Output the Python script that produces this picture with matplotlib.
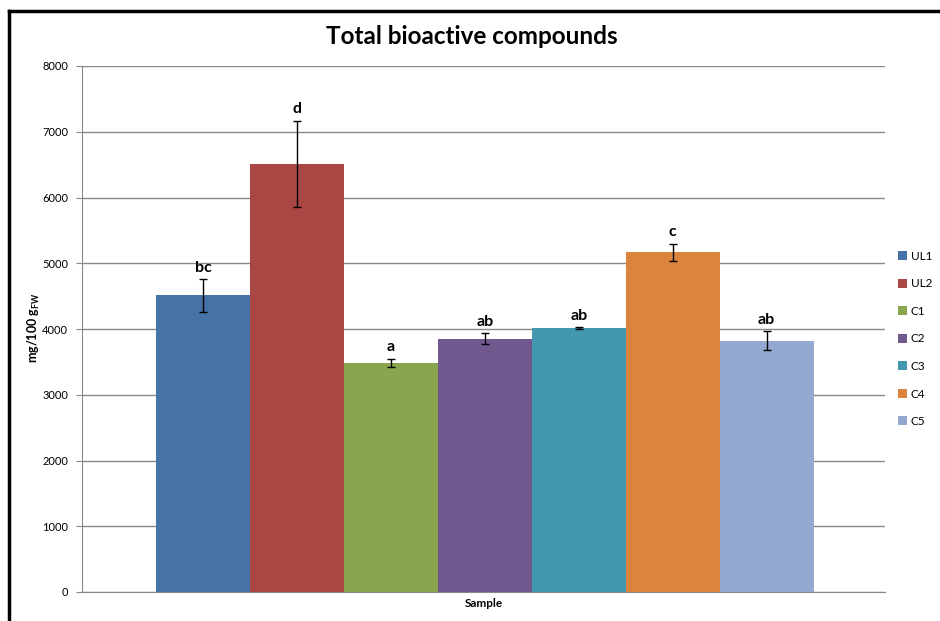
import matplotlib
matplotlib.use("Agg")
import matplotlib.pyplot as plt
from matplotlib.lines import Line2D
from matplotlib.patches import Patch

plt.rcParams['font.family'] = ['Lato', 'DejaVu Sans']

samples = ["UL1", "UL2", "C1", "C2", "C3", "C4", "C5"]
values = [4510, 6510, 3480, 3850, 4010, 5165, 3825]
errors = [247, 660, 65, 85, 15, 130, 140]
letters = ["bc", "d", "a", "ab", "ab", "c", "ab"]
colors = ["#4572A7", "#AA4643", "#89A54E", "#71588F", "#4198AF", "#DB843D", "#93A9CF"]
yticks = [0, 1000, 2000, 3000, 4000, 5000, 6000, 7000, 8000]

fig = plt.figure(figsize=(9.4, 6.21), dpi=100)
ax = fig.add_axes([82/940, 1-592/621, (885-82)/940, (592-66)/621])

x = list(range(len(samples)))
ax.bar(x, values, width=1.0, color=colors, zorder=2)
ax.errorbar(x, values, yerr=errors, fmt='none', ecolor='black', elinewidth=1,
            capsize=3, capthick=1, zorder=3)
for xi, v, e, lab in zip(x, values, errors, letters):
    ax.text(xi, v + e + 70, lab, ha='center', va='bottom', fontsize=11.5,
            fontweight='bold', zorder=4)

ax.set_xlim(-0.5-0.79, 6.5+0.76)
ax.set_ylim(0, 8000)
ax.set_yticks(yticks)
ax.set_yticklabels([str(t) for t in yticks], fontsize=8)
ax.yaxis.grid(True, color='#888888', linewidth=1, zorder=0)
ax.set_axisbelow(True)
ax.set_xticks([])
for s in ['top', 'right']:
    ax.spines[s].set_visible(False)
ax.spines['left'].set_color('#888888')
ax.spines['bottom'].set_color('#888888')
ax.tick_params(axis='y', length=4, color='#888888', pad=6)

ax.set_xlabel("Sample", fontsize=8.5, fontweight='bold', labelpad=4)
ax.set_ylabel(r"mg/100 g$_{\mathregular{FW}}$", fontsize=9, fontweight='bold', va='center')
ax.yaxis.set_label_coords((34-82)/803, (592-328)/526)

fig.text(472/940, 1-37/621, "Total bioactive compounds", ha='center', va='center',
         fontsize=17.5, fontweight='bold')

handles = [Patch(facecolor=c, edgecolor='none') for c in colors]
leg = fig.legend(handles, samples, loc='center left', bbox_to_anchor=(887/940, 1-339/621),
                 frameon=False, fontsize=8.5, handlelength=0.8, handleheight=0.8,
                 handletextpad=0.3, labelspacing=1.4)

fig.add_artist(Line2D([9/940, 9/940], [0, 1-11/621], color='black', linewidth=2.5,
                      transform=fig.transFigure))
fig.add_artist(Line2D([9/940, 1], [1-11/621, 1-11/621], color='black', linewidth=2.5,
                      transform=fig.transFigure))

fig.savefig("out.png", dpi=100)
